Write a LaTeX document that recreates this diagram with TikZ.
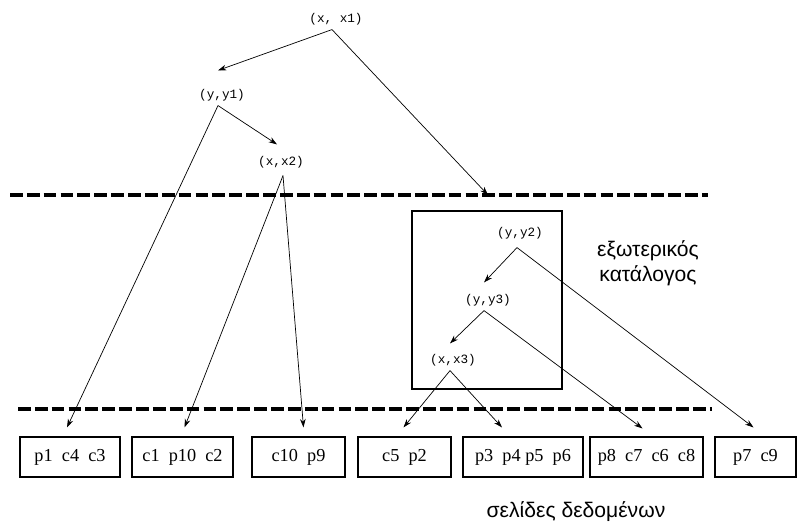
\documentclass[tikz,border=0pt]{standalone}
\usepackage{fontspec}
\setmainfont{Liberation Serif}
\newfontfamily\keyfont{Liberation Mono}
\newfontfamily\grfont{Liberation Sans}
\usetikzlibrary{arrows.meta, calc}

\begin{document}
\begin{tikzpicture}[x=0.025cm, y=-0.025cm,
    key/.style={font=\keyfont\fontsize{9}{10}\selectfont, inner sep=1pt},
    page/.style={draw, thick, minimum height=1cm, inner sep=0pt,
                 font=\fontsize{13}{14}\selectfont},
    ptr/.style={-{Stealth[length=6pt, width=4pt]}, line width=0.5pt},
    level/.style={line width=2.6pt, dash pattern=on 9pt off 3pt},
    note/.style={font=\grfont\fontsize{15}{18}\selectfont, align=center}]
  \useasboundingbox (0,0) rectangle (799,524);

  % index levels above and inside the external catalog
  \node[key] (x1) at (336,19) {(x, x1)};
  \node[key] (y1) at (222,95) {(y,y1)};
  \node[key] (x2) at (281,162) {(x,x2)};
  \node[key] (y2) at (520,233) {(y,y2)};
  \node[key] (y3) at (488,300) {(y,y3)};
  \node[key] (x3) at (453,360) {(x,x3)};

  % separators
  \draw[level] (10,195) -- (708,195);
  \draw[level] (18,409) -- (712,409);
  \coordinate (hit) at (488,195);

  % external catalog
  \draw[thick] (412,211) rectangle (562,389);
  \node[note] (cat) at (648,263) {εξωτερικός\\κατάλογος};

  % data pages
  \node[page, minimum width=2.5cm]   (b1) at (70,457)    {p1~~c4~~c3};
  \node[page, minimum width=2.525cm] (b2) at (182.5,457) {c1~~p10~~c2};
  \node[page, minimum width=2.325cm] (b3) at (298.5,457) {c10~~p9};
  \node[page, minimum width=2.325cm] (b4) at (404.5,457) {c5~~p2};
  \node[page, minimum width=3cm]     (b5) at (523,457)   {p3~~p4~p5~~p6};
  \node[page, minimum width=2.825cm] (b6) at (646.5,457) {p8~~c7~~c6~~c8};
  \node[page, minimum width=2.025cm] (b7) at (755.5,457) {p7~~c9};
  \node[note] (pages) at (576,512) {σελίδες δεδομένων};

  % pointers
  \draw[ptr] ($(x1.south)+(-4,3)$) -- ($(y1.north)+(-4,-17)$);
  \draw[ptr] ($(x1.south)+(-4,3)$) -- (hit);
  \draw[ptr] ($(y1.south)+(-4,3)$) -- ($(x2.north)+(-4,-10)$);
  \draw[ptr] ($(y1.south)+(-4,3)$) -- ($(b1.north)+(-3,-9)$);
  \draw[ptr] ($(x2.south)+(2,6)$) -- ($(b2.north)+(2,-9)$);
  \draw[ptr] ($(x2.south)+(2,6)$) -- ($(b3.north)+(5,-9)$);
  \draw[ptr] ($(y2.south)+(-3,7)$) -- ($(y3.north)+(-4,-10)$);
  \draw[ptr] ($(y2.south)+(-3,7)$) -- ($(b7.north)+(-2,-9)$);
  \draw[ptr] ($(y3.south)+(-4,3)$) -- ($(x3.north)+(-3,-9)$);
  \draw[ptr] ($(y3.south)+(-4,3)$) -- ($(b6.north)+(-4,-8)$);
  \draw[ptr] ($(x3.south)+(-3,3)$) -- ($(b4.north)+(-1,-9)$);
  \draw[ptr] ($(x3.south)+(-3,3)$) -- ($(b5.north)+(-21,-9)$);
\end{tikzpicture}
\end{document}
